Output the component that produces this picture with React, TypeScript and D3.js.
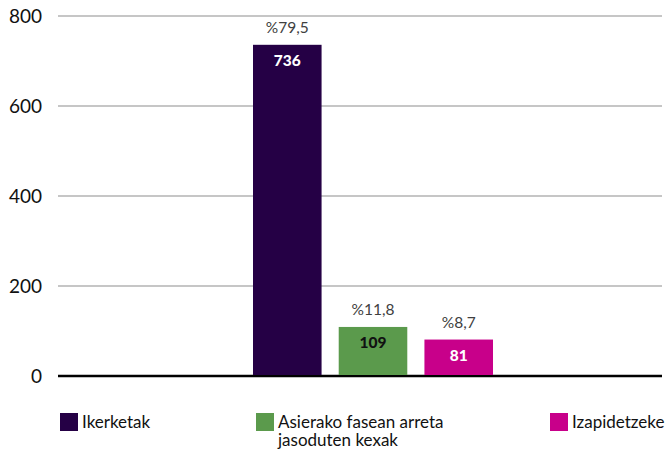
import React from "react";
import * as d3 from "d3";

const series = ["Ikerketak", "Asierako fasean arreta jasoduten kexak", "Izapidetzeke"];
const legendLines = [["Ikerketak"], ["Asierako fasean arreta", "jasoduten kexak"], ["Izapidetzeke"]];
const values = [736, 109, 81];
const percents = ["%79,5", "%11,8", "%8,7"];
const colors = ["#250045", "#5b9a4c", "#c8008a"];
const valueColors = ["#ffffff", "#111111", "#ffffff"];
const yTicks = [0, 200, 400, 600, 800];

const W = 666;
const H = 449;
const FONT = "Lato, 'Open Sans', sans-serif";

export default function App() {
  const plot = { left: 58, right: 662, top: 16, bottom: 376 };

  const y = d3.scaleLinear().domain([0, 800]).range([plot.bottom, plot.top]);
  const x = d3.scaleBand<string>()
    .domain(series)
    .range([253, 493])
    .paddingInner(0.2);

  const legendX = [60, 256, 550];

  return (
    <svg width={W} height={H} style={{ position: "absolute", left: 0, top: 0, background: "#fff" }}>
      {/* gridlines + y labels */}
      {yTicks.map((t) => (
        <g key={t}>
          <line
            x1={plot.left}
            x2={plot.right}
            y1={y(t)}
            y2={y(t)}
            stroke={t === 0 ? "#000" : "#b3b3b3"}
            strokeWidth={t === 0 ? 2.5 : 1.3}
          />
          <text x={42} y={y(t) + 7} textAnchor="end" fontFamily={FONT} fontSize={19} fill="#111">
            {t}
          </text>
        </g>
      ))}

      {/* bars */}
      {series.map((s, i) => {
        const bx = x(s)!;
        const by = y(values[i]);
        const cx = bx + x.bandwidth() / 2;
        return (
          <g key={s}>
            <rect x={bx} y={by} width={x.bandwidth()} height={plot.bottom - 1 - by} fill={colors[i]} />
            <text x={cx} y={by - 12} textAnchor="middle" fontFamily={FONT} fontSize={15.5} fill="#404040">
              {percents[i]}
            </text>
            <text x={cx} y={by + 21} textAnchor="middle" fontFamily={FONT} fontSize={15.5} fontWeight="900" fill={valueColors[i]}>
              {values[i]}
            </text>
          </g>
        );
      })}

      {/* legend */}
      {series.map((s, i) => (
        <g key={"lg" + i} transform={`translate(${legendX[i]},413)`}>
          <rect x={0} y={0} width={18} height={18} fill={colors[i]} />
          {legendLines[i].map((ln, j) => (
            <text key={j} x={22} y={15 + j * 18} fontFamily={FONT} fontSize={17} fill="#111">
              {ln}
            </text>
          ))}
        </g>
      ))}
    </svg>
  );
}
